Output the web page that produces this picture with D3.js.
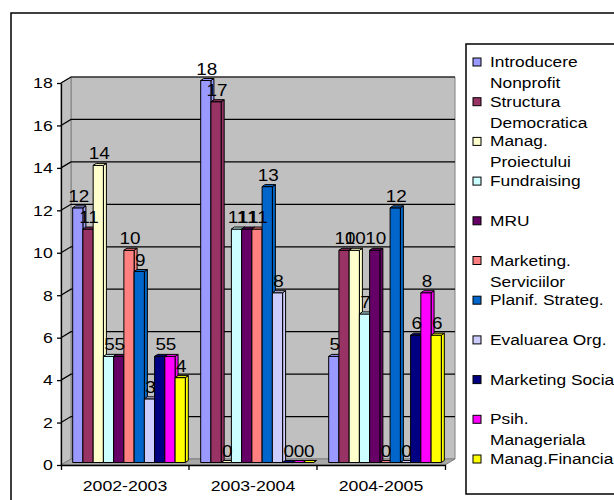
<!DOCTYPE html>
<html>
<head>
<meta charset="utf-8">
<script src="https://cdn.jsdelivr.net/npm/d3@7"></script>
<style>
  body { margin: 0; background: #fff; }
  svg { display: block; font-family: "Liberation Sans", Arial, sans-serif; }
</style>
</head>
<body>
<svg id="chart" width="614" height="500"></svg>
<script>
// data
const categories = ["2002-2003", "2003-2004", "2004-2005"];
const seriesNames = [
  ["Introducere", "Nonprofit"],
  ["Structura", "Democratica"],
  ["Manag.", "Proiectului"],
  ["Fundraising"],
  ["MRU"],
  ["Marketing.", "Serviciilor"],
  ["Planif. Strateg."],
  ["Evaluarea Org."],
  ["Marketing Social"],
  ["Psih.", "Manageriala"],
  ["Manag.Financiara"]
];
const colors = ["#9999FF", "#993366", "#FFFFCC", "#CCFFFF", "#660066", "#FF8080",
                "#0066CC", "#CCCCFF", "#000080", "#FF00FF", "#FFFF00"];
const values2002 = [12, 11, 14, 5, 5, 10, 9, 3, 5, 5, 4];
const values2003 = [18, 17, 0, 11, 11, 11, 13, 8, 0, 0, 0];
const values2004 = [5, 10, 10, 7, 10, 0, 12, 0, 6, 8, 6];
const yTicks = [0, 2, 4, 6, 8, 10, 12, 14, 16, 18];

const valuesByCat = [values2002, values2003, values2004];
const svg = d3.select("#chart");
const SX = 1.18;   // picture is stretched sideways, so is the text
const font = "Liberation Sans, Arial, sans-serif";

// outer chart frame
svg.append("rect")
  .attr("x", 11).attr("y", 13).attr("width", 620).attr("height", 500)
  .attr("fill", "none").attr("stroke", "#000").attr("stroke-width", 1.5);

// scales
const x0 = d3.scaleBand().domain(categories).range([61, 445]);
const x1 = d3.scaleBand().domain(d3.range(seriesNames.length))
  .range([0, x0.bandwidth()]).paddingInner(0).paddingOuter(0.75);
const y = d3.scaleLinear().domain([0, 18]).range([465, 83]);

// 3d offsets: wall depth and bar placement
const wd = { x: 10, y: -6 };
const bo = { x: 4, y: -2.5 };
const bd = { x: 3, y: -2 };

const xl = x0.range()[0], xr = x0.range()[1];
const yb = y(0), yt = y(18);

// walls
const walls = svg.append("g");
walls.append("polygon")
  .attr("points", [[xl + wd.x, yt + wd.y], [xr + wd.x, yt + wd.y], [xr + wd.x, yb + wd.y], [xl + wd.x, yb + wd.y]].join(" "))
  .attr("fill", "#C0C0C0").attr("stroke", "#808080");
walls.append("polygon")
  .attr("points", [[xl, yt], [xl + wd.x, yt + wd.y], [xl + wd.x, yb + wd.y], [xl, yb]].join(" "))
  .attr("fill", "#C0C0C0").attr("stroke", "#808080");
walls.append("polygon")
  .attr("points", [[xl, yb], [xl + wd.x, yb + wd.y], [xr + wd.x, yb + wd.y], [xr, yb]].join(" "))
  .attr("fill", "#A8A8A8").attr("stroke", "#808080");

// gridlines on left and back wall
yTicks.filter(t => t > 0).forEach(t => {
  const yy = y(t);
  walls.append("path")
    .attr("d", `M${xl},${yy}L${xl + wd.x},${yy + wd.y}L${xr + wd.x},${yy + wd.y}`)
    .attr("fill", "none").attr("stroke", "#000").attr("stroke-width", 1.2);
});

// axes
const yAxis = svg.append("g")
  .attr("transform", `translate(${xl},0)`)
  .call(d3.axisLeft(y).tickValues(yTicks).tickSize(4).tickSizeOuter(0));
yAxis.selectAll("path, line").attr("stroke", "#000").attr("stroke-width", 1.3);
yAxis.selectAll("text")
  .attr("font-family", font).attr("font-size", 15).attr("fill", "#000")
  .attr("transform", `scale(${SX},1)`);

const xAxis = svg.append("g")
  .attr("transform", `translate(0,${yb})`)
  .call(d3.axisBottom(x0).tickSize(0).tickSizeOuter(5));
xAxis.select("path").attr("stroke", "#000").attr("stroke-width", 1.3);
xAxis.selectAll(".tick text")
  .attr("font-family", font).attr("font-size", 15).attr("fill", "#000")
  .attr("y", 26).attr("dy", null)
  .attr("transform", `scale(${SX},1)`)
  .attr("x", 0);
xAxis.selectAll(".tick").each(function (d) {
  d3.select(this).select("text").attr("transform", `scale(${SX},1)`);
});
categories.slice(1).forEach(c => {
  xAxis.append("line")
    .attr("x1", x0(c)).attr("x2", x0(c)).attr("y1", 0).attr("y2", 5)
    .attr("stroke", "#000").attr("stroke-width", 1.3);
});

// bars, drawn left to right so each one hides the side of the previous
const bars = svg.append("g");
const labels = svg.append("g");
categories.forEach((cat, ci) => {
  valuesByCat[ci].forEach((v, si) => {
    const w = x1.bandwidth();
    const bx = x0(cat) + x1(si) + bo.x;
    const top = y(v) + bo.y;
    const bot = yb + bo.y;
    const g = bars.append("g")
      .attr("fill", colors[si]).attr("stroke", "#000").attr("stroke-width", 1)
      .attr("stroke-linejoin", "round");
    // side face
    g.append("polygon")
      .attr("points", [[bx + w, top], [bx + w + bd.x, top + bd.y], [bx + w + bd.x, bot + bd.y], [bx + w, bot]].join(" "));
    // front face
    g.append("rect")
      .attr("x", bx).attr("y", top).attr("width", w).attr("height", bot - top);
    // top face
    g.append("polygon")
      .attr("points", [[bx, top], [bx + w, top], [bx + w + bd.x, top + bd.y], [bx + bd.x, top + bd.y]].join(" "));

    labels.append("text")
      .attr("transform", `translate(${bx + w / 2 + 1},${top - 6}) scale(${SX},1)`)
      .attr("text-anchor", "middle")
      .attr("font-family", font).attr("font-size", 16).attr("fill", "#000")
      .text(v);
  });
});

// legend
const leg = svg.append("g");
leg.append("rect")
  .attr("x", 466).attr("y", 44).attr("width", 200).attr("height", 450)
  .attr("fill", "#fff").attr("stroke", "#000").attr("stroke-width", 1.5);
const rowY = d3.scaleLinear().domain([0, seriesNames.length - 1]).range([62, 459]);
seriesNames.forEach((lines, i) => {
  const yy = rowY(i);
  leg.append("rect")
    .attr("x", 473).attr("y", yy - 4).attr("width", 8).attr("height", 8)
    .attr("fill", colors[i]).attr("stroke", "#000").attr("stroke-width", 1);
  lines.forEach((s, li) => {
    leg.append("text")
      .attr("transform", `translate(490,${yy + 5 + li * 21}) scale(${SX},1)`)
      .attr("font-family", font).attr("font-size", 14.7).attr("fill", "#000")
      .text(s);
  });
});
</script>
</body>
</html>
